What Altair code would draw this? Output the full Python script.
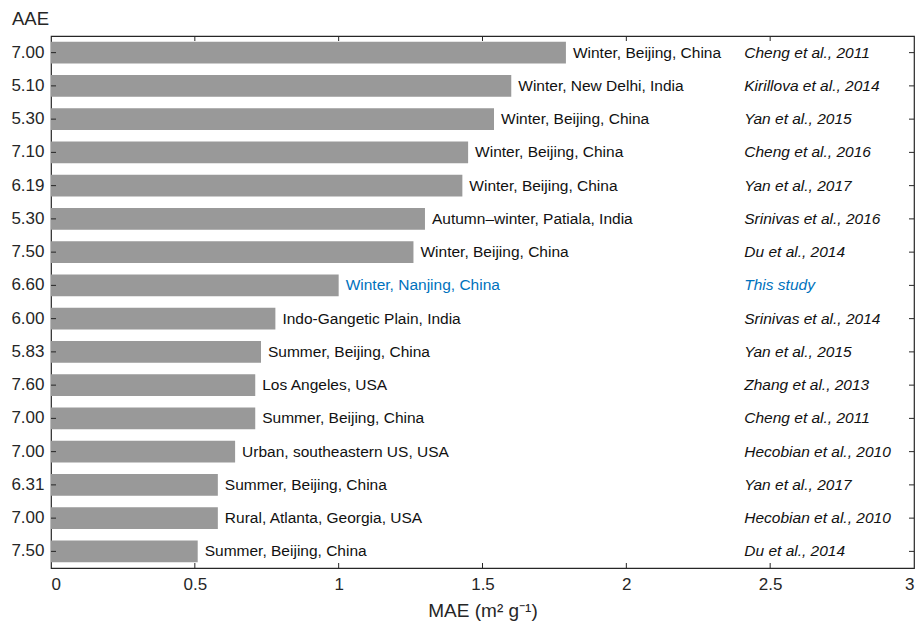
import json
import altair as alt
import pandas as pd

# AAE shown on the left axis, one per row (top to bottom)
aae = ["7.00", "5.10", "5.30", "7.10", "6.19", "5.30", "7.50", "6.60",
       "6.00", "5.83", "7.60", "7.00", "7.00", "6.31", "7.00", "7.50"]

# MAE (m2 g-1) for each row
mae = [1.79, 1.60, 1.54, 1.45, 1.43, 1.30, 1.26, 1.00,
       0.78, 0.73, 0.71, 0.71, 0.64, 0.58, 0.58, 0.51]

sites = [
    "Winter, Beijing, China",
    "Winter, New Delhi, India",
    "Winter, Beijing, China",
    "Winter, Beijing, China",
    "Winter, Beijing, China",
    "Autumn\u2013winter, Patiala, India",
    "Winter, Beijing, China",
    "Winter, Nanjing, China",
    "Indo-Gangetic Plain, India",
    "Summer, Beijing, China",
    "Los Angeles, USA",
    "Summer, Beijing, China",
    "Urban, southeastern US, USA",
    "Summer, Beijing, China",
    "Rural, Atlanta, Georgia, USA",
    "Summer, Beijing, China",
]

refs = [
    "Cheng et al., 2011",
    "Kirillova et al., 2014",
    "Yan et al., 2015",
    "Cheng et al., 2016",
    "Yan et al., 2017",
    "Srinivas et al., 2016",
    "Du et al., 2014",
    "This study",
    "Srinivas et al., 2014",
    "Yan et al., 2015",
    "Zhang et al., 2013",
    "Cheng et al., 2011",
    "Hecobian et al., 2010",
    "Yan et al., 2017",
    "Hecobian et al., 2010",
    "Du et al., 2014",
]

x_ticks = [0.5, 1, 1.5, 2, 2.5]
REF_X = 2.41

W, H = 863, 532
FONT = "Liberation Sans"
INK = "#262626"
BAR = "#999999"
BLUE = "#0072BD"

df = pd.DataFrame({
    "row": list(range(len(mae))),
    "aae": aae,
    "mae": mae,
    "site": sites,
    "ref": refs,
})
df["own"] = df["ref"] == "This study"

label_expr = json.dumps(aae) + "[datum.value]"

x_scale = alt.Scale(domain=[0, 3], nice=False, zero=True)
y_scale = alt.Scale(domain=list(range(len(mae))), paddingInner=0.35, paddingOuter=0.175)

x_axis = alt.Axis(
    values=[0, 0.5, 1, 1.5, 2, 2.5, 3], format="~g", grid=False, ticks=False,
    tickSize=0, domain=False, labelFont=FONT, labelFontSize=17, labelColor=INK,
    labelPadding=8, title="MAE (m\u00b2 g\u207b\u00b9)", titleFont=FONT,
    titleFontSize=19, titleFontWeight="normal", titleColor=INK,
    titleBaseline="alphabetic", titleY=48,
)
y_axis = alt.Axis(
    labelExpr=label_expr, ticks=False, tickSize=0, domain=False, grid=False,
    labelFont=FONT, labelFontSize=17, labelColor=INK, labelPadding=7,
    title="AAE", titleAngle=0, titleAlign="center", titleBaseline="alphabetic",
    titleX=-21, titleY=-12, titleFont=FONT, titleFontSize=18.5,
    titleFontWeight="normal", titleColor=INK,
)

base = alt.Chart(df)

bars = base.mark_bar(color=BAR).encode(
    x=alt.X("mae:Q", scale=x_scale, axis=x_axis),
    y=alt.Y("row:O", scale=y_scale, axis=y_axis),
)

color_enc = alt.condition("datum.own", alt.value(BLUE), alt.value("#111111"))

site_text = base.mark_text(
    align="left", baseline="middle", dx=7, font=FONT, fontSize=15.5
).encode(
    x=alt.X("mae:Q", scale=x_scale),
    y=alt.Y("row:O", scale=y_scale),
    text="site:N",
    color=color_enc,
)

ref_text = base.mark_text(
    align="left", baseline="middle", font=FONT, fontSize=15.5, fontStyle="italic"
).encode(
    x=alt.datum(REF_X, scale=x_scale),
    y=alt.Y("row:O", scale=y_scale),
    text="ref:N",
    color=color_enc,
)

# inward-pointing tick marks on all four sides of the frame
tick_df = pd.DataFrame({"t": x_ticks})
bottom_ticks = alt.Chart(tick_df).mark_rule(color=INK, strokeWidth=1).encode(
    x=alt.X("t:Q", scale=x_scale), y=alt.value(H), y2=alt.value(H - 5)
)
top_ticks = alt.Chart(tick_df).mark_rule(color=INK, strokeWidth=1).encode(
    x=alt.X("t:Q", scale=x_scale), y=alt.value(0), y2=alt.value(5)
)
left_ticks = base.mark_rule(color=INK, strokeWidth=1).encode(
    y=alt.Y("row:O", scale=y_scale), x=alt.value(0), x2=alt.value(5)
)
right_ticks = base.mark_rule(color=INK, strokeWidth=1).encode(
    y=alt.Y("row:O", scale=y_scale), x=alt.value(W), x2=alt.value(W - 5)
)

chart = alt.layer(
    bars, site_text, ref_text, bottom_ticks, top_ticks, left_ticks, right_ticks
).properties(
    width=W, height=H,
    autosize=alt.AutoSizeParams(type="none"),
    padding={"left": 51, "top": 36, "right": 6, "bottom": 55},
    background="white",
).configure_view(
    stroke=INK, strokeWidth=1.2
)

chart.save("out.html", embed_options={"renderer": "svg", "actions": False})
